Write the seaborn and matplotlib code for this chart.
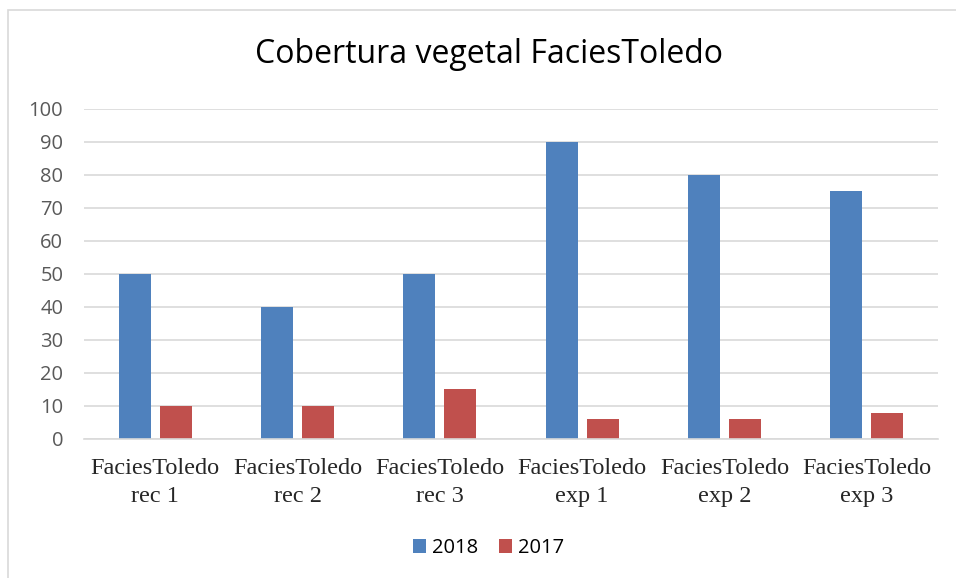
import matplotlib
matplotlib.use("Agg")
import matplotlib.pyplot as plt
import seaborn as sns
import pandas as pd
from matplotlib.patches import Rectangle

# chart data
categories = ["FaciesToledo\nrec 1", "FaciesToledo\nrec 2", "FaciesToledo\nrec 3",
              "FaciesToledo\nexp 1", "FaciesToledo\nexp 2", "FaciesToledo\nexp 3"]
values_2018 = [50, 40, 50, 90, 80, 75]
values_2017 = [10, 10, 15, 6, 6, 8]
series = ["2018", "2017"]
colors = ["#4F81BD", "#C0504D"]

df = pd.DataFrame({
    "cat": categories * 2,
    "year": ["2018"] * len(categories) + ["2017"] * len(categories),
    "value": values_2018 + values_2017,
})

sns.set_style("white")
plt.rcParams["font.family"] = ["Open Sans", "DejaVu Sans"]

fig = plt.figure(figsize=(9.56, 5.78), dpi=100)
ax = fig.add_axes([0.088, 0.2405, 0.893, 0.571])

sns.barplot(data=df, x="cat", y="value", hue="year", hue_order=series,
            palette=colors, width=0.575, gap=0.22, saturation=1,
            edgecolor="none", ax=ax, legend=True)

ax.set_ylim(0, 100)
ax.set_yticks(range(0, 101, 10))
ax.set_xlim(-0.5, len(categories) - 0.5)
ax.yaxis.grid(True, color="#d9d9d9", linewidth=1.2)
ax.set_axisbelow(True)
for s in ["top", "right", "left"]:
    ax.spines[s].set_visible(False)
ax.spines["bottom"].set_color("#d9d9d9")
ax.spines["bottom"].set_linewidth(1.2)
ax.set_xlabel("")
ax.set_ylabel("")
ax.tick_params(axis="both", length=0)
ax.tick_params(axis="y", labelsize=14.5, labelcolor="#595959", pad=15)
for lbl in ax.get_xticklabels():
    lbl.set_fontfamily(["Liberation Serif"])
    lbl.set_fontsize(17.5)
    lbl.set_linespacing(1.4)
ax.tick_params(axis="x", pad=14)

fig.text(0.512, 0.905, "Cobertura vegetal FaciesToledo", ha="center", va="center",
         fontsize=23, color="#000000")

leg = ax.legend(loc="center", bbox_to_anchor=(0.511, 0.052), bbox_transform=fig.transFigure,
                ncol=2, frameon=False, fontsize=14.5, handlelength=0.65, handleheight=0.65,
                handletextpad=0.3, columnspacing=1.0)
for t in leg.get_texts():
    t.set_color("#000000")

# outer chart border
fig.patches.append(Rectangle((8 / 956, -0.01), 1.0, 1 - 10 / 578 + 0.01,
                             transform=fig.transFigure, fill=False,
                             edgecolor="#d9d9d9", linewidth=1.2))

fig.savefig("out.png", dpi=100)
